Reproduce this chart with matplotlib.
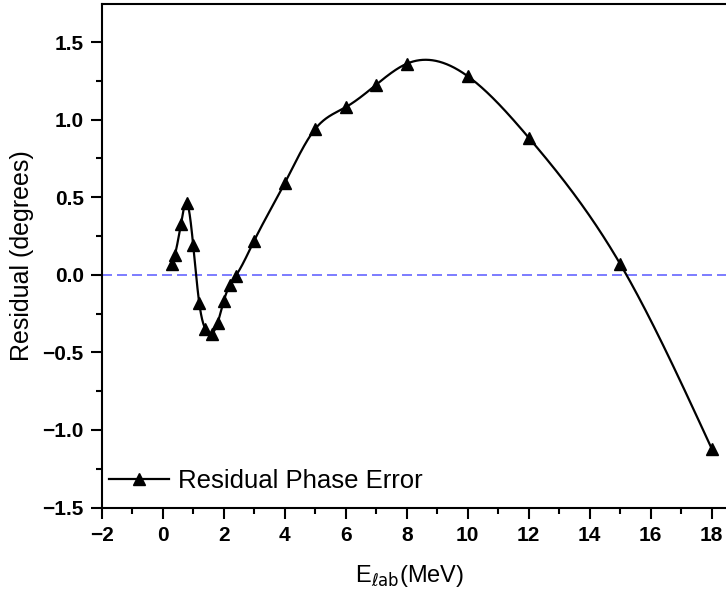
import numpy as np
import matplotlib
matplotlib.use("Agg")
import matplotlib.pyplot as plt

# Data
energy = [0.3, 0.4, 0.6, 0.8, 1.0, 1.2, 1.4, 1.6, 1.8, 2.0, 2.2, 2.4, 3.0,
          4.0, 5.0, 6.0, 7.0, 8.0, 10.0, 12.0, 15.0, 18.0]
residual = [0.07, 0.13, 0.33, 0.46, 0.19, -0.185, -0.35, -0.38, -0.31, -0.17,
            -0.065, -0.005, 0.22, 0.59, 0.94, 1.08, 1.225, 1.36, 1.28, 0.884,
            0.07, -1.12]
xticks = [-2, 0, 2, 4, 6, 8, 10, 12, 14, 16, 18]
yticks = [-1.5, -1.0, -0.5, 0.0, 0.5, 1.0, 1.5]


def natural_spline(x, y, xs):
    x = np.asarray(x, float); y = np.asarray(y, float)
    n = len(x)
    h = np.diff(x)
    A = np.zeros((n, n)); b = np.zeros(n)
    A[0, 0] = 1; A[-1, -1] = 1
    for i in range(1, n - 1):
        A[i, i - 1] = h[i - 1]
        A[i, i] = 2 * (h[i - 1] + h[i])
        A[i, i + 1] = h[i]
        b[i] = 6 * ((y[i + 1] - y[i]) / h[i] - (y[i] - y[i - 1]) / h[i - 1])
    M = np.linalg.solve(A, b)
    idx = np.clip(np.searchsorted(x, xs) - 1, 0, n - 2)
    x0 = x[idx]; x1 = x[idx + 1]; hh = x1 - x0
    t0 = x1 - xs; t1 = xs - x0
    return (M[idx] * t0**3 / (6 * hh) + M[idx + 1] * t1**3 / (6 * hh)
            + (y[idx] / hh - M[idx] * hh / 6) * t0
            + (y[idx + 1] / hh - M[idx + 1] * hh / 6) * t1)


plt.rcParams['font.family'] = ['Liberation Sans', 'DejaVu Sans']

fig = plt.figure(figsize=(7.26, 5.92), dpi=100)
ax = fig.add_axes([0.1401, 0.1427, 0.8599, 0.8505])

ax.axhline(0, color='#6666ff', lw=1.2, dashes=(6, 3), zorder=1)

xs = np.linspace(min(energy), max(energy), 2000)
ax.plot(xs, natural_spline(energy, residual, xs), color='black', lw=1.6, zorder=2)
ax.plot(energy, residual, linestyle='none', marker='^', ms=8.5, color='black', zorder=3)
# legend proxy
ax.plot([], [], color='black', lw=1.6, marker='^', ms=8.5, label='Residual Phase Error')

ax.set_xlim(-2, 18.47)
ax.set_ylim(-1.5, 1.745)
ax.set_xticks(xticks)
ax.set_yticks(yticks)
ax.set_xticks(np.arange(-1, 19, 2), minor=True)
ax.set_yticks(np.arange(-1.25, 1.75, 0.5), minor=True)
ax.set_yticklabels([f"{v:.1f}".replace('-', '\u2212') for v in yticks])
ax.set_xticklabels([str(v).replace('-', '\u2212') for v in xticks])

for lab in ax.get_xticklabels() + ax.get_yticklabels():
    lab.set_fontweight('bold')
    lab.set_fontsize(15)

ax.tick_params(which='major', direction='out', length=8, width=1.5, top=False, right=False, pad=5)
ax.tick_params(which='minor', direction='out', length=4.5, width=1.5, top=False, right=False)
for s in ['left', 'bottom', 'top']:
    ax.spines[s].set_linewidth(1.5)
ax.spines['right'].set_visible(False)

ax.set_ylabel('Residual (degrees)', fontsize=18, labelpad=6)
ax.set_xlabel(r'E$_{\ell \mathrm{ab}}$(MeV)', fontsize=17, labelpad=7)
ax.xaxis.set_label_coords(0.493, -0.111)
ax.xaxis.label.set_va('top')

ax.legend(loc='center left', bbox_to_anchor=(0.0, 0.0526), frameon=False,
          fontsize=18.5, handlelength=2.3, handletextpad=0.35, borderaxespad=0.3,
          borderpad=0)

fig.savefig('out.png', dpi=100)
